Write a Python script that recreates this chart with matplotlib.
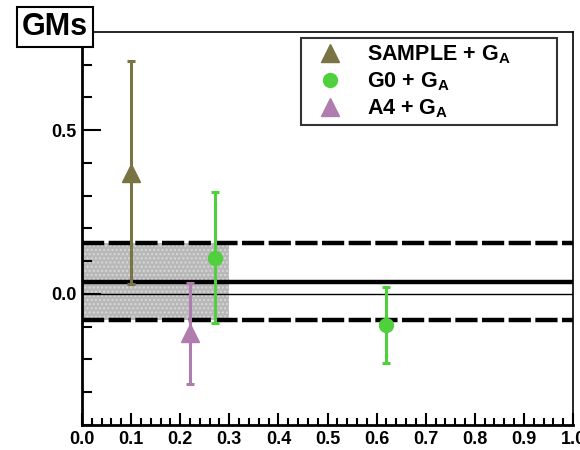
import numpy as np
import matplotlib
matplotlib.use("Agg")
import matplotlib.pyplot as plt
from matplotlib.patches import Rectangle
from matplotlib.lines import Line2D
from matplotlib.ticker import MultipleLocator, FormatStrFormatter

plt.rcParams['font.family'] = ['Liberation Sans', 'DejaVu Sans']
plt.rcParams['font.weight'] = 'bold'
plt.rcParams['mathtext.fontset'] = 'custom'
plt.rcParams['mathtext.bf'] = 'Liberation Sans:bold'
plt.rcParams['mathtext.rm'] = 'Liberation Sans:bold'
plt.rcParams['mathtext.default'] = 'bf'

# data
sample_x = [0.10]
sample_y = [0.37]
sample_err = [0.34]

g0_x = [0.27, 0.62]
g0_y = [0.11, -0.095]
g0_err = [0.20, 0.115]

a4_x = [0.22]
a4_y = [-0.12]
a4_err = [0.155]

labels = [r'SAMPLE + G$_\mathbf{A}$', r'G0 + G$_\mathbf{A}$', r'A4 + G$_\mathbf{A}$']

# reference lines and band
central = 0.038
band_lo, band_hi = -0.078, 0.155
band_xmax = 0.30

fig = plt.figure(figsize=(5.8, 4.5), dpi=100)
ax = fig.add_axes([0.1414, 0.0556, 0.8466, 0.8734])
ax.set_xlim(0, 1)
ax.set_ylim(-0.4, 0.8)

# shaded band
ax.add_patch(Rectangle((0, band_lo), band_xmax, band_hi - band_lo,
                       facecolor='#b8b8b8', edgecolor='#d8d8d8', hatch='....',
                       linewidth=0, zorder=1))
ax.axhline(0.0, color='black', lw=1.0, zorder=2)
ax.axhline(central, color='black', lw=3.2, zorder=2)
ax.axhline(band_hi, color='black', lw=3.2, dashes=(5, 1), zorder=2)
ax.axhline(band_lo, color='black', lw=3.2, dashes=(5, 1), zorder=2)

olive = '#7a7444'
green = '#4fd03c'
purple = '#b07cb0'

ax.errorbar(sample_x, sample_y, yerr=sample_err, fmt='^', color=olive,
            ms=13, lw=2.2, capsize=3, capthick=2.2, zorder=4)
ax.errorbar(g0_x, g0_y, yerr=g0_err, fmt='o', color=green,
            ms=10, lw=2.2, capsize=3, capthick=2.2, zorder=4)
ax.errorbar(a4_x, a4_y, yerr=a4_err, fmt='^', color=purple,
            ms=13, lw=2.2, capsize=3, capthick=2.2, zorder=4)

ax.xaxis.set_major_locator(MultipleLocator(0.1))
ax.xaxis.set_minor_locator(MultipleLocator(0.02))
ax.yaxis.set_major_locator(MultipleLocator(0.5))
ax.yaxis.set_minor_locator(MultipleLocator(0.1))
ax.xaxis.set_major_formatter(FormatStrFormatter('%.1f'))
ax.yaxis.set_major_formatter(FormatStrFormatter('%.1f'))
ax.tick_params(which='both', direction='in', top=False, right=False,
               labelsize=13, width=1.5)
ax.tick_params(axis='y', which='major', length=14, pad=4)
ax.tick_params(axis='y', which='minor', length=7)
ax.tick_params(axis='x', which='minor', length=5)
ax.tick_params(axis='x', which='major', length=9, pad=4)
for s in ['left', 'bottom']:
    ax.spines[s].set_linewidth(2)
for s in ['top', 'right']:
    ax.spines[s].set_linewidth(1.2)

handles = [
    Line2D([], [], marker='^', ls='none', color=olive, ms=13),
    Line2D([], [], marker='o', ls='none', color=green, ms=10),
    Line2D([], [], marker='^', ls='none', color=purple, ms=13),
]
leg = ax.legend(handles, labels, loc='upper left',
                bbox_to_anchor=(0.446, 0.985, 0.521, 0.0), mode='expand',
                frameon=True, fancybox=False, edgecolor='black',
                fontsize=15.5, handlelength=2.2, handletextpad=0.6,
                borderpad=0.25, labelspacing=0.2, borderaxespad=0)
leg.get_frame().set_linewidth(1.5)

fig.text(0.095, 0.94, 'GMs', fontsize=22, fontweight='bold',
         ha='center', va='center',
         bbox=dict(boxstyle='square,pad=0.15', facecolor='white',
                   edgecolor='black', linewidth=1.5))

fig.savefig('out.png', dpi=100)
